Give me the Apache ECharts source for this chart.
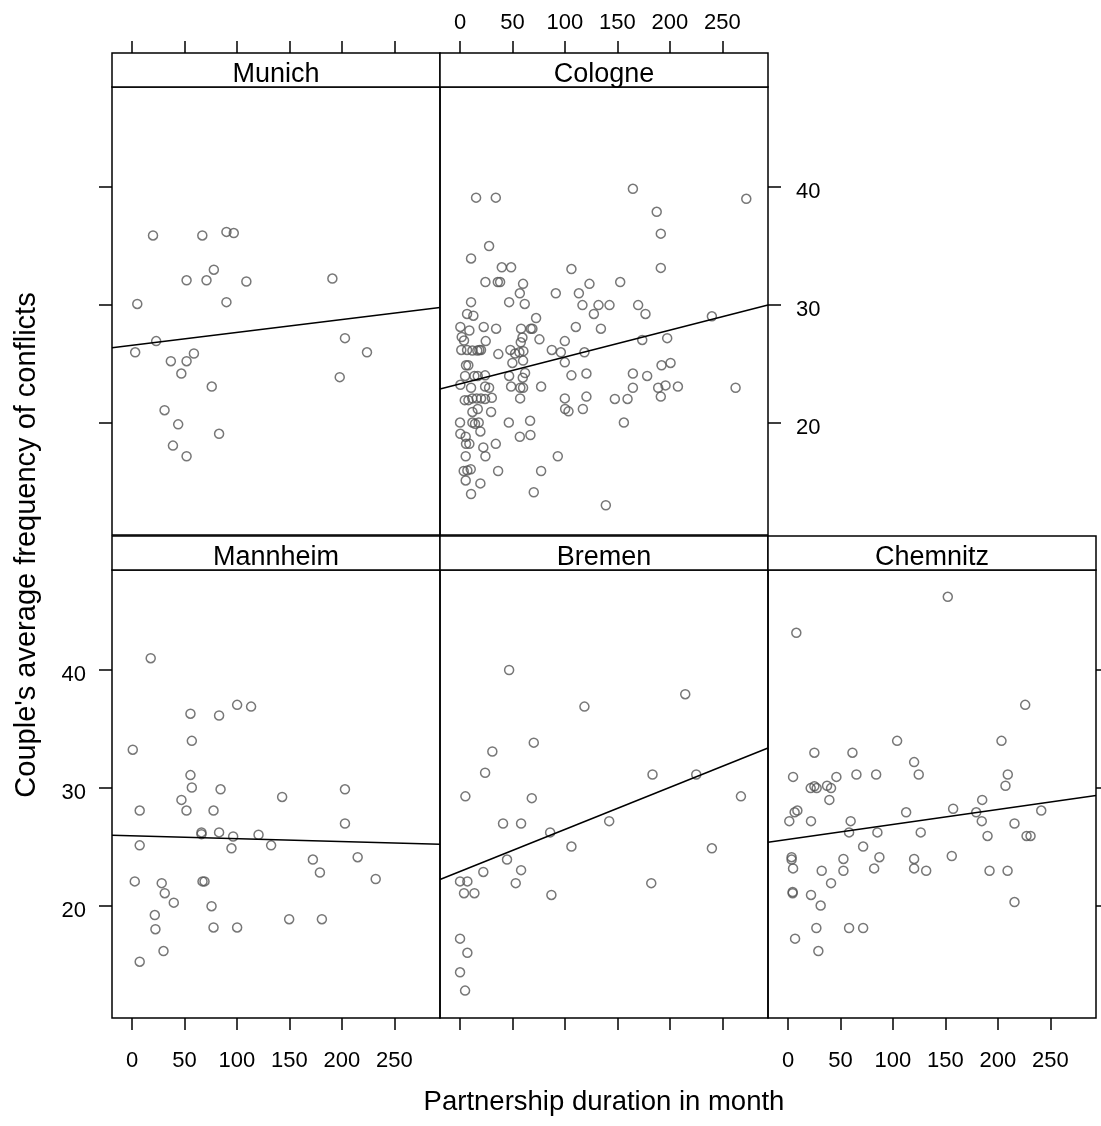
<!DOCTYPE html>
<html>
<head>
<meta charset="utf-8">
<script src="https://cdn.jsdelivr.net/npm/echarts@6/dist/echarts.min.js"></script>
<style>html,body{margin:0;padding:0;background:#fff}#c{width:1101px;height:1126px}</style>
</head>
<body>
<div id="c"></div>
<script>
// ---- Data: [partnership duration (months), average conflict frequency] ----
const panelNames = ['Munich', 'Cologne', 'Mannheim', 'Bremen', 'Chemnitz'];
const xTicks = [0, 50, 100, 150, 200, 250];
const yTicks = [20, 30, 40];
const xRange = [-19.1, 293.6];
const yRange = [10.53, 48.47];

const munich = [[20,35.9],[67,35.9],[90,36.2],[97,36.1],[78,33.0],[52,32.1],[71,32.1],[109,32.0],[191,32.25],[5,30.1],[90,30.25],[23,26.95],[3,26.0],[37,25.25],[52,25.25],[59,25.9],[47,24.2],[76,23.1],[203,27.2],[224,26.0],[198,23.9],[31,21.1],[44,19.9],[83,19.1],[39,18.1],[52,17.2]];

const cologne = [[15.3,39.1],[34.1,39.1],[27.7,35.0],[10.5,33.95],[39.8,33.2],[48.7,33.2],[106.2,33.05],[24.2,31.95],[36.0,31.95],[38.2,31.95],[60.1,31.8],[123.4,31.8],[57.0,31.0],[91.3,31.0],[113.3,31.0],[10.5,30.25],[46.8,30.25],[61.7,30.1],[116.7,30.0],[132.0,30.0],[6.7,29.25],[12.7,29.1],[127.6,29.25],[72.5,28.9],[0.3,28.15],[8.9,27.85],[22.6,28.15],[34.4,28.0],[58.2,28.0],[67.4,28.0],[69.0,28.0],[110.4,28.15],[134.3,28.0],[1.6,27.3],[3.8,27.0],[24.5,26.95],[59.5,27.25],[57.9,26.85],[75.7,27.1],[99.9,26.95],[1.2,26.2],[6.7,26.2],[11.8,26.15],[16.5,26.15],[18.4,26.2],[20.0,26.2],[36.5,25.85],[48.0,26.2],[52.5,25.9],[56.6,26.0],[60.4,26.1],[87.5,26.2],[96.1,26.0],[118.6,26.0],[5.7,24.9],[7.9,24.9],[49.9,25.1],[60.1,25.3],[99.9,25.15],[4.8,24.0],[13.7,24.0],[16.9,24.0],[23.9,24.05],[46.8,24.0],[59.8,23.85],[62.0,24.25],[106.2,24.05],[120.5,24.2],[0.3,23.25],[10.5,23.0],[23.9,23.1],[27.7,23.0],[48.7,23.1],[57.5,23.0],[60.1,23.0],[77.3,23.1],[4.5,21.95],[8.0,21.95],[11.7,22.1],[15.9,22.1],[20.0,22.1],[23.9,22.05],[30.3,22.15],[57.3,22.1],[99.9,22.1],[120.5,22.25],[11.8,20.95],[16.9,21.2],[29.6,20.95],[100.2,21.2],[103.4,21.0],[117.1,21.2],[0,20.05],[11.8,20.05],[14.3,19.95],[17.8,20.05],[46.5,20.05],[66.8,20.2],[0.3,19.1],[5.4,18.85],[19.4,19.3],[57.0,18.85],[67.1,19.0],[5.7,18.25],[8.9,18.25],[34.1,18.25],[22.2,17.95],[24.2,17.2],[5.4,17.2],[93.2,17.2],[3.5,15.95],[7.0,16.0],[10.2,16.1],[36.3,15.95],[77.3,15.95],[5.4,15.15],[19.4,14.9],[10.5,14.0],[70.3,14.15],[139.0,13.05],[164.8,39.85],[272.9,39.0],[187.5,37.9],[191.4,36.05],[191.4,33.15],[152.7,31.95],[142.5,30.0],[169.8,30.0],[176.8,29.25],[240.1,29.05],[173.7,27.05],[197.5,27.2],[192.1,24.9],[200.7,25.1],[164.8,24.2],[178.4,24.0],[164.8,23.0],[188.9,23.0],[195.9,23.2],[207.7,23.1],[262.7,23.0],[147.6,22.05],[159.7,22.05],[191.4,22.25],[156.2,20.05]];

const mannheim = [[17.8,41.0],[55.7,36.3],[83.0,36.15],[100.2,37.05],[113.5,36.9],[57.0,34.0],[0.7,33.25],[55.7,31.1],[57.0,30.05],[84.4,29.9],[143.1,29.25],[203.0,29.9],[47.1,29.0],[7.3,28.1],[51.9,28.1],[77.7,28.1],[203.0,27.0],[66.2,26.25],[66.2,26.1],[83.0,26.25],[96.4,25.9],[120.6,26.05],[7.3,25.15],[94.8,24.9],[132.6,25.15],[172.4,23.95],[215.1,24.15],[179.1,22.85],[232.3,22.3],[2.6,22.1],[28.3,21.95],[31.2,21.1],[39.8,20.3],[67.2,22.1],[69.1,22.1],[75.8,20.0],[21.7,19.25],[149.8,18.9],[181.0,18.9],[22.3,18.05],[77.7,18.2],[100.2,18.2],[30.0,16.2],[7.3,15.3]];

const bremen = [[46.8,40.0],[214.7,37.95],[118.6,36.9],[70.3,33.85],[30.8,33.1],[23.9,31.3],[183.5,31.15],[225.2,31.15],[5.1,29.3],[68.4,29.15],[267.8,29.3],[41.0,27.0],[58.2,27.0],[142.2,27.2],[85.9,26.25],[106.2,25.05],[240.1,24.9],[44.8,23.95],[22.2,22.9],[58.2,23.05],[0,22.1],[7.0,22.1],[53.1,21.95],[182.3,21.95],[3.8,21.1],[13.7,21.1],[87.1,20.95],[0,17.25],[7.0,16.05],[0,14.4],[4.8,12.85]];

const chemnitz = [[152.3,46.2],[7.9,43.15],[226.1,37.05],[104.0,34.0],[203.5,34.0],[25.1,33.0],[61.4,33.0],[120.2,32.2],[4.8,30.95],[46.1,30.95],[65.2,31.15],[84.0,31.15],[124.6,31.15],[209.5,31.15],[207.3,30.2],[21.6,30.0],[25.1,30.15],[27.3,30.0],[37.2,30.2],[41.0,30.0],[39.4,29.0],[185.1,29.0],[157.4,28.25],[241.4,28.1],[6.3,27.95],[8.9,28.1],[112.6,27.95],[179.4,27.95],[1.2,27.2],[21.9,27.2],[59.7,27.2],[184.7,27.2],[215.9,27.0],[58.2,26.25],[85.2,26.25],[126.5,26.25],[190.2,25.95],[227.4,25.95],[231.2,25.95],[71.6,25.05],[3.4,24.15],[3.4,23.95],[4.8,23.2],[52.8,24.0],[87.1,24.15],[120.2,24.0],[156.1,24.25],[32.1,23.0],[52.8,23.0],[82.1,23.2],[120.2,23.2],[131.7,23.0],[192.1,23.0],[209.3,23.0],[41.0,21.95],[4.4,21.2],[4.4,21.1],[21.9,20.95],[31.1,20.05],[215.9,20.35],[27.0,18.15],[58.2,18.15],[71.6,18.15],[6.7,17.25],[28.9,16.2]];

// fitted regression lines (endpoints at panel edges)
const munichFit = [[-19.1,26.38],[293.6,29.8]];
const cologneFit = [[-19.1,22.9],[293.6,30.0]];
const mannheimFit = [[-19.1,26.0],[293.6,25.25]];
const bremenFit = [[-19.1,22.26],[293.6,33.4]];
const chemnitzFit = [[-19.1,25.42],[293.6,29.38]];

const xTitle = 'Partnership duration in month';
const yTitle = "Couple's average frequency of conflicts";

// ---- Layout ----
const FONT = '"Liberation Sans", Arial, Helvetica, sans-serif';
const panelData = [munich, cologne, mannheim, bremen, chemnitz];
const fitData = [munichFit, cologneFit, mannheimFit, bremenFit, chemnitzFit];
const W = 328, H = 448, STRIP = 34;
const geo = [
  {left:112, top:87},  // Munich
  {left:440, top:87},  // Cologne
  {left:112, top:570}, // Mannheim
  {left:440, top:570}, // Bremen
  {left:768, top:570}  // Chemnitz
];
// axis config per panel: [xPos, xTicks, xLabels, yPos, yTicks, yLabels]
const axCfg = [
  ['top', true, false, 'left', true, false],
  ['top', true, true, 'right', true, true],
  ['bottom', true, true, 'left', true, true],
  ['bottom', true, false, 'left', false, false],
  ['bottom', true, true, 'right', true, false]
];

const grids = [], xAxes = [], yAxes = [], series = [], graphics = [];
geo.forEach((g, i) => {
  const c = axCfg[i];
  grids.push({left:g.left, top:g.top, width:W, height:H, show:true, borderColor:'#000', borderWidth:1.5, backgroundColor:'transparent'});
  xAxes.push({
    type:'value', gridIndex:i, min:xRange[0], max:xRange[1], position:c[0],
    offset: c[0] === 'top' ? STRIP : 0,
    axisLine:{show:false, onZero:false},
    splitLine:{show:false},
    axisTick:{show:c[1], inside:false, length:12, customValues:xTicks, lineStyle:{color:'#000', width:1.5}},
    axisLabel:{show:c[2], customValues:xTicks, color:'#000', fontSize:22, fontFamily:FONT, margin: c[0]==='top' ? 19 : 32}
  });
  yAxes.push({
    type:'value', gridIndex:i, min:yRange[0], max:yRange[1], position:c[3],
    axisLine:{show:false, onZero:false},
    splitLine:{show:false},
    axisTick:{show:c[4], inside:false, length:13, customValues:yTicks, lineStyle:{color:'#000', width:1.5}},
    axisLabel:{show:c[5], customValues:yTicks, color:'#000', fontSize:22, fontFamily:FONT, verticalAlign:'top', lineHeight:10, margin: c[3]==='left' ? 26 : 28}
  });
  series.push({
    type:'scatter', xAxisIndex:i, yAxisIndex:i, data:panelData[i],
    symbol:'circle', symbolSize:9,
    itemStyle:{color:'rgba(0,0,0,0)', borderColor:'#555', borderWidth:1.5},
    silent:true
  });
  series.push({
    type:'line', xAxisIndex:i, yAxisIndex:i, data:fitData[i],
    symbol:'none', lineStyle:{color:'#000', width:1.5}, silent:true, z:3
  });
  // strip
  graphics.push({type:'rect', shape:{x:g.left, y:g.top-STRIP, width:W, height:STRIP},
    style:{fill:'#fff', stroke:'#000', lineWidth:1.5}, z:10});
  graphics.push({type:'text', x:g.left + W/2, y:g.top - STRIP/2 + 5,
    style:{text:panelNames[i], font:'27px ' + FONT, fill:'#000', align:'center', verticalAlign:'middle', textAlign:'center', textVerticalAlign:'middle'}, z:11});
});
graphics.push({type:'text', x:604, y:1102,
  style:{text:xTitle, font:'27.5px ' + FONT, fill:'#000', align:'center', verticalAlign:'middle', textAlign:'center', textVerticalAlign:'middle'}});
graphics.push({type:'text', x:27, y:545, rotation:Math.PI/2,
  style:{text:yTitle, font:'29px ' + FONT, fill:'#000', align:'center', verticalAlign:'middle', textAlign:'center', textVerticalAlign:'middle'}});

const chart = echarts.init(document.getElementById('c'), null, {renderer:'canvas'});
chart.setOption({
  animation:false,
  backgroundColor:'#fff',
  grid:grids, xAxis:xAxes, yAxis:yAxes, series:series, graphic:graphics
});
</script>
</body>
</html>
